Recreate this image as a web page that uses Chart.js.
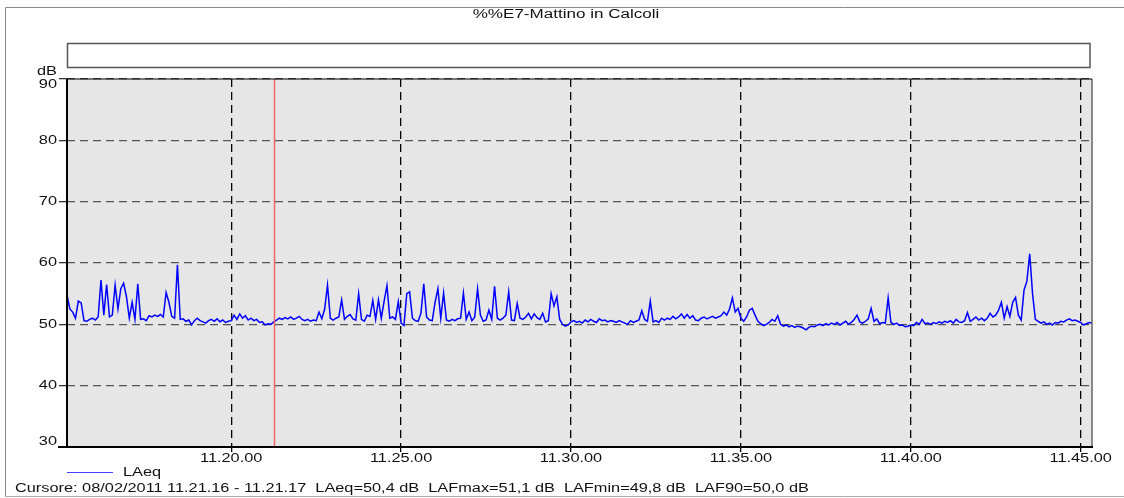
<!DOCTYPE html>
<html>
<head>
<meta charset="utf-8">
<script src="https://cdn.jsdelivr.net/npm/chart.js@4"></script>
<style>
html, body { margin: 0; padding: 0; background: #fff; }
canvas { display: block; }
</style>
</head>
<body>
<canvas id="chart" width="1124" height="498"></canvas>
<script>
var chartTitle = '%%E7-Mattino in Calcoli';
var seriesName = 'LAeq';
var cursorText = 'Cursore: 08/02/2011 11.21.16 - 11.21.17  LAeq=50,4 dB  LAFmax=51,1 dB  LAFmin=49,8 dB  LAF90=50,0 dB';
var yUnit = 'dB';

// time in seconds of the day; one sample every 5 s from 11.15.10
var sampleStart = 40510;
var sampleStep = 5;
var cursorTime = 40876; // 11.21.16
var xTicks = [40800, 41100, 41400, 41700, 42000, 42300];
var yTicks = [30, 40, 50, 60, 70, 80, 90];

var laeq = [
  54.8, 52.5, 52.0, 51.0, 53.8, 53.5, 50.6, 50.5, 50.8, 51.0,
  50.7, 51.2, 57.2, 51.5, 56.5, 51.2, 51.5, 56.4, 52.5, 55.8,
  56.7, 54.5, 51.0, 53.6, 50.8, 56.6, 50.8, 50.9, 50.6, 51.4,
  51.2, 51.5, 51.3, 51.6, 51.2, 55.2, 53.6, 51.3, 51.0, 59.7,
  50.8, 50.9, 50.5, 50.7, 49.9, 50.6, 51.0, 50.6, 50.4, 50.2,
  50.6, 50.8, 50.5, 50.9, 50.4, 50.7, 50.3, 50.5, 50.6, 51.5,
  50.8, 51.7, 51.0, 51.4, 50.7, 51.0, 50.6, 50.8, 50.3, 50.4,
  49.9, 50.1, 50.0, 50.4, 50.7, 51.0, 50.8, 51.1, 50.9, 51.2,
  50.8, 51.0, 51.3, 50.8, 50.6, 50.8, 50.5, 50.7, 50.6, 52.0,
  50.9, 52.5, 56.4, 51.0, 50.7, 51.0, 51.2, 54.0, 50.8, 51.3,
  51.6, 50.9, 50.7, 55.0, 50.8, 50.5, 51.5, 51.3, 53.9, 50.8,
  54.0, 51.0, 53.8, 56.3, 51.0, 51.2, 50.8, 53.7, 50.2, 49.8,
  55.0, 55.3, 51.0, 50.6, 50.5, 51.8, 56.6, 51.2, 50.7, 50.6,
  53.6, 55.8, 51.0, 55.1, 50.7, 50.5, 50.8, 50.6, 50.9, 51.0,
  55.1, 50.8, 52.0, 50.6, 51.2, 55.8, 51.5, 50.5, 50.7, 52.3,
  50.8, 56.2, 51.0, 50.7, 51.0, 51.5, 55.3, 50.7, 50.6, 53.4,
  51.0, 50.8, 51.2, 51.8, 50.9, 51.7, 51.1, 50.8, 51.8, 50.4,
  50.6, 55.0, 53.0, 54.5, 50.8, 50.0, 49.7, 49.9, 50.4, 50.6,
  50.3, 50.5, 50.2, 50.7, 50.4, 50.8, 50.5, 50.3, 50.9, 50.6,
  50.7, 50.4, 50.6, 50.5, 50.3, 50.6, 50.4, 50.2, 50.0, 50.6,
  50.3, 50.5, 50.7, 52.2, 50.8, 50.5, 53.8, 50.4, 50.6, 50.3,
  51.0, 50.7, 51.0, 50.8, 51.3, 50.9, 51.2, 51.7, 51.0, 51.6,
  51.0, 51.4, 50.7, 50.6, 51.0, 51.2, 50.9, 51.1, 51.3, 51.0,
  51.2, 51.4, 52.0, 51.5, 52.5, 54.3, 52.0, 52.6, 51.0, 50.5,
  51.2, 52.3, 52.6, 51.5, 50.5, 50.1, 49.8, 50.0, 50.3, 50.8,
  50.5, 51.4, 50.0, 49.7, 49.9, 49.6, 49.8, 49.5, 49.7, 49.6,
  49.4, 49.1, 49.5, 49.7, 49.6, 49.9, 50.0, 49.8, 50.1, 49.9,
  50.2, 50.0, 50.3, 49.9, 50.2, 50.5, 50.0, 50.3, 50.8, 51.5,
  50.4, 50.2, 50.5, 50.9, 52.6, 50.5, 50.9, 50.1, 50.3, 50.2,
  54.3, 50.3, 50.0, 50.2, 49.8, 49.9, 49.6, 49.7, 49.9, 49.8,
  50.3, 50.0, 50.8, 50.1, 50.2, 50.0, 50.3, 50.1, 50.4, 50.2,
  50.5, 50.3, 50.6, 50.2, 50.8, 50.4, 50.3, 50.6, 51.9, 50.5,
  50.8, 51.2, 50.7, 51.0, 50.6, 51.0, 51.8, 51.2, 51.5, 52.3,
  53.6, 51.0, 52.9, 51.3, 53.6, 54.4, 51.5, 50.7, 55.6, 57.0,
  61.5, 55.0, 50.8, 50.5, 50.2, 50.4, 50.0, 50.2, 49.9, 50.3,
  50.2, 50.5, 50.4, 50.7, 50.9, 50.6, 50.7, 50.5, 50.3, 49.9,
  50.1, 50.3, 50.2
];

function pad2(n) { return (n < 10 ? '0' : '') + n; }
function hms(s) {
  return Math.floor(s / 3600) + '.' + pad2(Math.floor(s / 60) % 60) + '.' + pad2(s % 60);
}

var points = laeq.map(function (v, i) {
  return { x: sampleStart + i * sampleStep, y: v };
});

var SX = 1.36;
var FONT = '12px "Liberation Sans", Arial, sans-serif';
function stretchText(ctx, s, x, y, align, sx) {
  ctx.save();
  ctx.translate(x, y);
  ctx.scale(sx || SX, 1);
  ctx.textAlign = align || 'left';
  ctx.textBaseline = 'middle';
  ctx.fillText(s, 0, 0);
  ctx.restore();
}
function seg(ctx, x1, y1, x2, y2) {
  ctx.beginPath();
  ctx.moveTo(x1, y1);
  ctx.lineTo(x2, y2);
  ctx.stroke();
}

var decor = {
  id: 'decor',
  beforeDraw: function (chart) {
    var ctx = chart.ctx, a = chart.chartArea;
    ctx.save();
    ctx.fillStyle = '#fff';
    ctx.fillRect(0, 0, chart.width, chart.height);
    ctx.fillStyle = '#e6e6e6';
    ctx.fillRect(a.left, a.top, a.right - a.left, a.bottom - a.top);
    ctx.restore();
  },
  afterDraw: function (chart) {
    var ctx = chart.ctx, a = chart.chartArea;
    var xs = chart.scales.x, ys = chart.scales.y;
    ctx.save();

    // cursor
    var cx = Math.round(xs.getPixelForValue(cursorTime)) + 0.5;
    ctx.strokeStyle = '#f06666';
    ctx.lineWidth = 1.5;
    seg(ctx, cx, a.top, cx, a.bottom);

    // plot frame
    ctx.strokeStyle = '#666';
    ctx.lineWidth = 1.5;
    seg(ctx, a.right, a.top, a.right, a.bottom);
    ctx.strokeStyle = '#000';
    ctx.lineWidth = 1.2;
    seg(ctx, a.left, a.top, a.right, a.top);
    ctx.lineWidth = 2;
    seg(ctx, a.left, a.top, a.left, a.bottom + 1);
    seg(ctx, a.left - 9, a.bottom, a.right + 1, a.bottom);

    // outer frame and empty box
    ctx.strokeStyle = '#888';
    ctx.lineWidth = 1;
    seg(ctx, 5.5, 7.5, chart.width, 7.5);
    seg(ctx, 5.5, 7.5, 5.5, 496.5);
    ctx.strokeStyle = '#aaa';
    seg(ctx, 5.5, 496.5, chart.width, 496.5);
    ctx.strokeStyle = '#555';
    ctx.lineWidth = 1.5;
    ctx.strokeRect(67.5, 43.5, 1022.5, 24);

    // texts
    ctx.fillStyle = '#111';
    ctx.font = FONT;
    stretchText(ctx, chartTitle, 566, 15, 'center', 1.42);
    stretchText(ctx, yUnit, 57, 72, 'right');
    yTicks.forEach(function (v) {
      var py = ys.getPixelForValue(v);
      py = Math.max(a.top + 6, Math.min(a.bottom - 5, py));
      stretchText(ctx, String(v), 57, py, 'right');
    });
    xTicks.forEach(function (v) {
      stretchText(ctx, hms(v), xs.getPixelForValue(v), 459, 'center');
    });

    // legend
    ctx.strokeStyle = '#4444ff';
    ctx.lineWidth = 1;
    seg(ctx, 67, 472.5, 113, 472.5);
    stretchText(ctx, seriesName, 123, 473, 'left');

    stretchText(ctx, cursorText, 15, 489, 'left');
    ctx.restore();
  }
};

new Chart(document.getElementById('chart'), {
  type: 'line',
  data: {
    datasets: [{
      label: seriesName,
      data: points,
      borderColor: '#0000ff',
      borderWidth: 1.5,
      pointRadius: 0,
      tension: 0,
      fill: false
    }]
  },
  options: {
    responsive: false,
    animation: false,
    devicePixelRatio: 1,
    layout: { padding: { left: 0, top: 79, right: 32, bottom: 31 } },
    plugins: {
      legend: { display: false },
      title: { display: false },
      tooltip: { enabled: false }
    },
    scales: {
      x: {
        type: 'linear',
        min: sampleStart,
        max: sampleStart + (laeq.length - 1) * sampleStep,
        afterBuildTicks: function (scale) {
          scale.ticks = xTicks.map(function (v) { return { value: v }; });
        },
        afterFit: function (scale) { scale.height = 20; },
        ticks: { display: false },
        grid: {
          color: '#000',
          lineWidth: 1.3,
          tickLength: 5,
          tickColor: '#000'
        },
        border: { display: false, dash: [8, 5] }
      },
      y: {
        min: 30,
        max: 90,
        afterBuildTicks: function (scale) {
          scale.ticks = yTicks.map(function (v) { return { value: v }; });
        },
        afterFit: function (scale) { scale.width = 67; },
        ticks: { display: false },
        grid: {
          color: '#555',
          lineWidth: 1.3,
          tickLength: 8,
          tickColor: '#333'
        },
        border: { display: false, dash: [8, 5] }
      }
    }
  },
  plugins: [decor]
});
</script>
</body>
</html>
